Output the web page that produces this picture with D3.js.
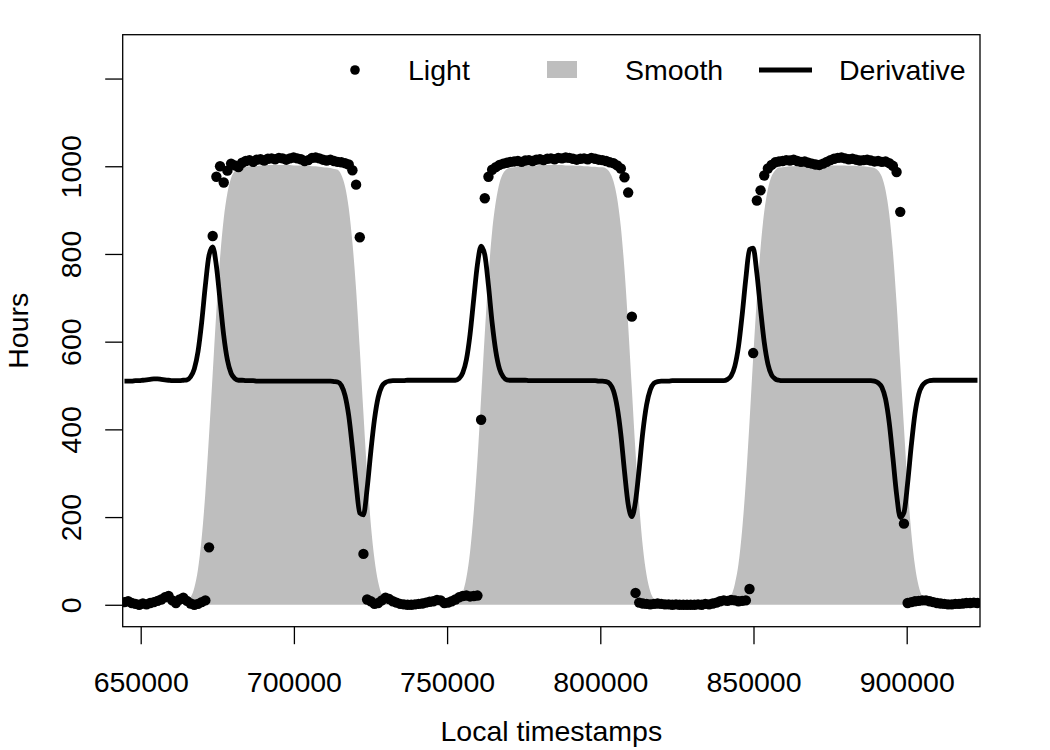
<!DOCTYPE html>
<html><head><meta charset="utf-8">
<script src="https://cdn.jsdelivr.net/npm/d3@7"></script>
<style>
body{margin:0;background:#fff}
svg{display:block}
text{font-family:"Liberation Sans",Arial,Helvetica,sans-serif;fill:#000}
</style>
</head><body>
<svg id="chart" width="1050" height="750"></svg>
<script>
// ---- data (timestamps sampled every 1200 s from timeStart) ----
const timeStart = 644700;
const timeStep = 1200;

const light = [
  6,8,4,2,0,3,1,4,6,9,12,17,20,10,4,12,16,9,3,0,2,6,10,
  131,841,976,1000,963,990,1006,
  1002,998,1008,1012,1014,1010,1015,1016,1013,1017,1018,1016,1019,1018,1015,1018,1020,1018,1016,1012,1014,1019,1020,1018,1015,1013,1015,1012,1010,1009,1007,1004,991,958,838,116,
  12,8,2,4,10,16,13,8,5,2,1,0,0,1,2,3,5,7,8,11,10,4,5,8,12,17,20,21,19,20,21,
  422,927,976,992,998,1003,1006,1008,1010,1011,1012,1010,1013,1014,1012,1015,1016,1014,1017,1018,1016,1019,1018,1020,1019,1017,1015,1017,1018,1016,1019,1017,1015,1014,1012,1009,1007,1002,995,975,940,657,27,
  5,3,2,1,2,3,2,1,1,0,1,0,0,0,0,0,1,0,2,1,3,5,8,10,9,11,10,8,9,10,
  36,574,922,945,979,995,1003,1009,1011,1012,1014,1013,1015,1012,1010,1011,1008,1006,1004,1003,1006,1010,1014,1017,1019,1020,1018,1016,1017,1015,1013,1014,1015,1013,1011,1012,1010,1011,1007,1001,987,896,185,4,
  6,8,9,10,10,8,6,4,3,2,1,1,2,2,3,4,4,5,4
];

const smooth = [
  0,0,0,0,0,0,0,0,0,0,0,0,0,0,0,0,0,
  6,17,39,81,152,255,386,528,670,791,881,939,973,989,996,
  998,999,1000,1001,1001,1002,1002,1003,1003,1003,1003,1003,1003,1003,1002,1002,1002,1001,1001,1000,1000,999,998,997,996,994,
  992,980,954,905,826,719,583,436,298,184,104,52,23,9,
  3,0,0,0,0,0,0,0,0,0,0,0,0,0,0,0,0,0,
  4,11,28,62,121,212,330,472,618,749,851,919,962,984,994,
  997,998,999,1000,1001,1001,1002,1002,1003,1003,1003,1003,1003,1003,1003,1002,1002,1002,1001,1001,1000,1000,999,999,998,998,
  995,986,966,927,862,764,637,492,348,227,131,68,31,13,5,
  0,0,0,0,0,0,0,0,0,0,0,0,0,0,0,0,0,0,
  8,20,47,93,171,281,417,564,699,813,896,948,977,991,997,
  998,999,1000,1000,1001,1001,1001,1001,1000,1000,1000,1001,1001,1002,1002,1002,1002,1002,1001,1001,1001,1000,1000,999,998,
  996,990,976,945,891,805,688,548,405,271,164,89,43,19,7,2,
  0,0,0,0,0,0,0,0,0,0,0,0,0
];

const derivative = [
  510,510,510,511,511,512,513,514,515,515,514,513,512,511,511,511,512,
  513,520,538,577,644,728,797,816,773,694,614,558,528,516,512,
  512,511,511,511,510,510,510,510,510,510,510,510,510,510,510,510,510,510,510,510,510,510,510,510,510,509,
  508,500,477,431,358,276,209,205,265,349,423,473,498,507,
  510,511,511,511,511,512,512,512,512,512,512,512,512,512,512,512,512,512,
  512,516,529,559,617,698,776,818,798,728,643,578,538,520,513,
  512,512,512,512,512,511,511,511,511,511,511,511,511,511,511,511,511,511,511,511,511,511,511,511,510,510,
  509,504,488,451,389,304,229,201,236,311,395,456,490,505,509,
  510,510,510,511,511,511,511,511,511,511,511,511,511,511,511,511,511,511,
  514,522,544,589,661,744,810,813,756,674,599,549,524,515,512,
  511,511,511,511,511,511,511,511,511,511,511,511,511,511,511,511,511,511,511,511,511,511,511,511,511,
  510,506,496,469,415,335,252,199,210,277,363,436,480,500,508,511,
  512,512,512,512,512,512,512,512,512,512,512,512,512
];

const xTicks = [650000, 700000, 750000, 800000, 850000, 900000];
const yTicks = [0, 200, 400, 600, 800, 1000, 1200];
const yTickLabels = ["0", "200", "400", "600", "800", "1000", ""];
const legendLabels = ["Light", "Smooth", "Derivative"];
const xTitle = "Local timestamps";
const yTitle = "Hours";

// ---- layout ----
const L = 122.7, R = 980, T = 34.7, B = 626.7;
const FS = 28.5;
const svg = d3.select("#chart");

const x = d3.scaleLinear().domain([644125, 923925]).range([L, R]);
const y = d3.scaleLinear().domain([-50, 1300]).range([B, T]);

const rows = light.map((v, i) => ({
  t: timeStart + i * timeStep,
  light: v,
  smooth: smooth[i],
  deriv: derivative[i]
}));

svg.append("defs").append("clipPath").attr("id", "plotclip")
  .append("rect").attr("x", L).attr("y", T).attr("width", R - L).attr("height", B - T);

const plot = svg.append("g").attr("clip-path", "url(#plotclip)");

// smooth area
plot.append("path")
  .datum(rows)
  .attr("fill", "#bebebe")
  .attr("stroke", "none")
  .attr("d", d3.area()
    .x(d => x(d.t)).y0(y(0)).y1(d => y(d.smooth))
    .curve(d3.curveMonotoneX));

// light points
plot.append("g").selectAll("circle")
  .data(rows).join("circle")
  .attr("cx", d => x(d.t)).attr("cy", d => y(d.light))
  .attr("r", 5.2).attr("fill", "#000");

// derivative line
plot.append("path")
  .datum(rows)
  .attr("fill", "none")
  .attr("stroke", "#000")
  .attr("stroke-width", 4.8)
  .attr("stroke-linejoin", "round")
  .attr("d", d3.line()
    .x(d => x(d.t)).y(d => y(d.deriv))
    .curve(d3.curveMonotoneX));

// axes
const xAxis = svg.append("g").attr("transform", `translate(0,${B})`)
  .call(d3.axisBottom(x).tickValues(xTicks).tickSize(17.5).tickFormat(d3.format("d")));
xAxis.select(".domain").remove();
xAxis.selectAll("line").attr("stroke", "#000").attr("stroke-width", 1.3);
xAxis.selectAll("text")
  .attr("y", 65.3).attr("dy", null)
  .attr("font-size", FS).attr("font-family", null).attr("fill", "#000");

const yAxis = svg.append("g").attr("transform", `translate(${L},0)`)
  .call(d3.axisLeft(y).tickValues(yTicks).tickSize(17.5)
    .tickFormat((d, i) => yTickLabels[i]));
yAxis.select(".domain").remove();
yAxis.selectAll("line").attr("stroke", "#000").attr("stroke-width", 1.3);
yAxis.selectAll("text")
  .attr("transform", "rotate(-90)")
  .attr("x", 0).attr("y", -41.7).attr("dy", null)
  .attr("text-anchor", "middle")
  .attr("font-size", FS).attr("font-family", null).attr("fill", "#000");

// frame
svg.append("rect").attr("x", L).attr("y", T).attr("width", R - L).attr("height", B - T)
  .attr("fill", "none").attr("stroke", "#000").attr("stroke-width", 1.3);

// titles
svg.append("text").attr("x", (L + R) / 2).attr("y", 741)
  .attr("text-anchor", "middle").attr("font-size", FS).text(xTitle);
svg.append("text")
  .attr("transform", `translate(28,${(T + B) / 2}) rotate(-90)`)
  .attr("text-anchor", "middle").attr("font-size", FS).text(yTitle);

// legend
const lg = svg.append("g");
const ly = 70;
lg.append("circle").attr("cx", 355).attr("cy", ly).attr("r", 4.8).attr("fill", "#000");
lg.append("rect").attr("x", 547).attr("y", 61).attr("width", 30).attr("height", 17).attr("fill", "#bebebe");
lg.append("line").attr("x1", 759).attr("x2", 812).attr("y1", ly).attr("y2", ly)
  .attr("stroke", "#000").attr("stroke-width", 4.8);
const lx = [408, 625, 839];
legendLabels.forEach((s, i) => {
  lg.append("text").attr("x", lx[i]).attr("y", 80).attr("font-size", FS).text(s);
});
</script>
</body></html>
